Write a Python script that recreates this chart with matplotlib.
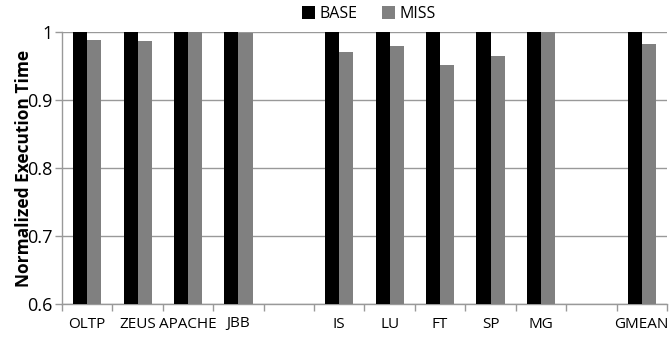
import matplotlib

matplotlib.use("Agg")
import matplotlib.pyplot as plt
import numpy as np

categories = ["OLTP", "ZEUS", "APACHE", "JBB", "", "IS", "LU", "FT", "SP", "MG", "", "GMEAN"]
base = [1.0, 1.0, 1.0, 1.0, None, 1.0, 1.0, 1.0, 1.0, 1.0, None, 1.0]
miss = [0.988, 0.987, 1.0, 0.999, None, 0.971, 0.979, 0.951, 0.965, 1.0, None, 0.982]
yticks = [0.6, 0.7, 0.8, 0.9, 1.0]
ytick_labels = ["0.6", "0.7", "0.8", "0.9", "1"]

plt.rcParams["font.family"] = ["Open Sans", "DejaVu Sans"]

fig = plt.figure(figsize=(6.69, 3.4), dpi=100)
ax = fig.add_axes([62 / 669, 1 - 304 / 340, 605 / 669, 272 / 340])

x = np.arange(len(categories))
w = 0.28
idx = [i for i, v in enumerate(base) if v is not None]
ax.bar(x[idx] - w / 2, [base[i] - 0.6 for i in idx], w, bottom=0.6,
       color="#000000", label="BASE", zorder=3)
ax.bar(x[idx] + w / 2, [miss[i] - 0.6 for i in idx], w, bottom=0.6,
       color="#808080", label="MISS", zorder=3)

ax.set_xlim(-0.5, len(categories) - 0.5)
ax.set_ylim(0.6, 1.0)
ax.set_yticks(yticks)
ax.set_yticklabels(ytick_labels, fontsize=13)
ax.set_xticks(x)
ax.set_xticklabels(categories, fontsize=11)
ax.tick_params(axis="x", which="major", length=0, pad=9)
ax.set_xticks(np.arange(len(categories) + 1) - 0.5, minor=True)
ax.tick_params(axis="x", which="minor", length=5, color="#999999", width=1)
ax.tick_params(axis="y", length=5, color="#999999", width=1, pad=2)

ax.grid(axis="y", color="#999999", linewidth=1, zorder=0)
for s in ["top", "right"]:
    ax.spines[s].set_visible(False)
for s in ["left", "bottom"]:
    ax.spines[s].set_color("#999999")
    ax.spines[s].set_linewidth(1)

ax.set_ylabel("Normalized Execution Time", fontsize=12.5, fontweight="bold")
ax.yaxis.set_label_coords(-0.048, 0.5)

fig.legend(loc="center", bbox_to_anchor=(369 / 669, 1 - 14 / 340), ncol=2,
           frameon=False, fontsize=11.5, handlelength=0.8, handleheight=0.8,
           handletextpad=0.3, columnspacing=1.5)

fig.savefig("out.png", dpi=100)
